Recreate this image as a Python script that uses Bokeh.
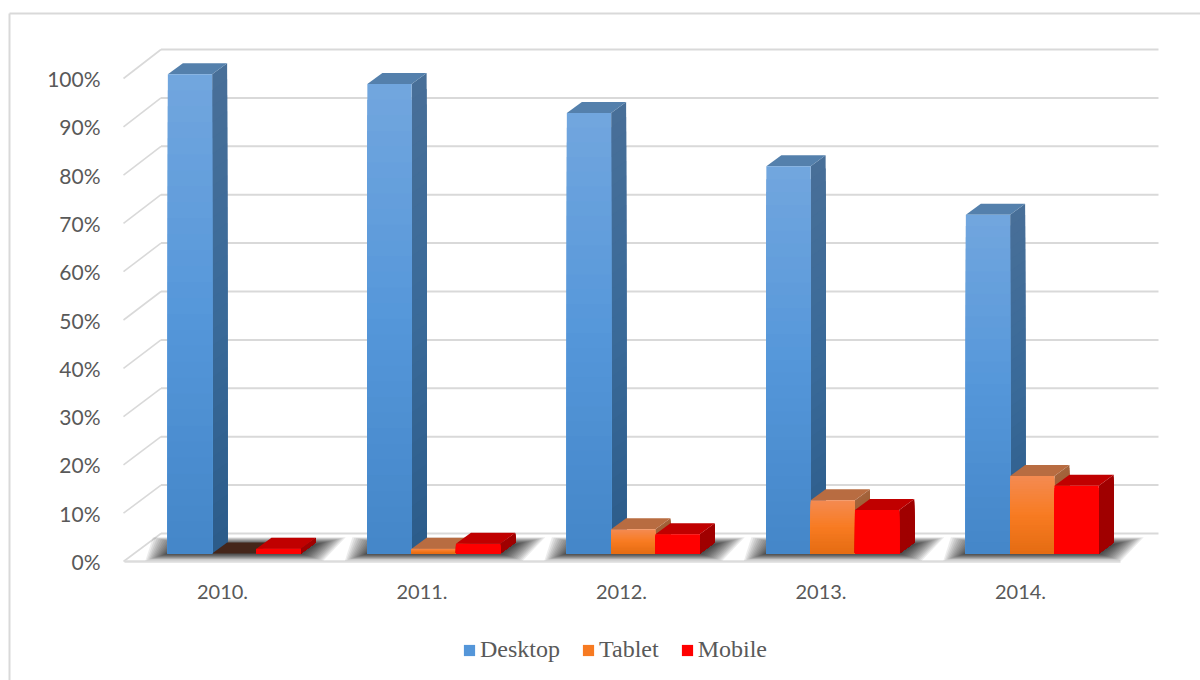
from bokeh.plotting import figure
from bokeh.models import (Range1d, LinearAxis, FixedTicker, Legend, LegendItem, ColumnDataSource)
from bokeh.embed import file_html
from bokeh.resources import INLINE

years = ["2010.", "2011.", "2012.", "2013.", "2014."]
desktop = [99, 97, 91, 80, 70]
tablet = [0, 1, 5, 11, 16]
mobile = [1, 2, 4, 9, 14]
y_ticks = [0, 10, 20, 30, 40, 50, 60, 70, 80, 90, 100]

W, H = 1200, 680
OX, OY = 0, 0                 # page offset of the figure
GROUP_PX, CENTER_PX = 199.5, 222.0
BAR_SHIFT_PX = 11.8           # clusters sit right of their labels, because of the depth
BAR_PX = 44.3
DX, DY = 15.0, 11.0           # oblique depth of bars
BASE_PX, UNIT_PX = 553.0, 4.84
STRIPS = 30
GRID = "#d9d9d9"
TEXT = "#595959"


def xd(px):
    return (px - CENTER_PX) / GROUP_PX


def yd(py):
    return (BASE_PX - py) / UNIT_PX


def hex2rgb(h):
    return tuple(int(h[i:i + 2], 16) for i in (1, 3, 5))


def ramp(stops, t):
    n = len(stops) - 1
    i = min(int(t * n), n - 1)
    f = t * n - i
    a, b = hex2rgb(stops[i]), hex2rgb(stops[i + 1])
    return "#%02x%02x%02x" % tuple(round(a[k] + (b[k] - a[k]) * f) for k in range(3))


p = figure(width=W, height=H, output_backend="svg", toolbar_location=None,
           x_range=Range1d(xd(OX), xd(OX + W)), y_range=Range1d(yd(OY + H), yd(OY)),
           x_axis_type=None, y_axis_type=None, min_border=0,
           outline_line_color=None, background_fill_color="white", border_fill_color="white")
p.grid.visible = False
p.extra_y_ranges = {"front": Range1d((561.0 - (OY + H)) / 4.83, (561.0 - OY) / 4.83)}

# chart border (left and top only)
p.segment(x0=[xd(9), xd(9)], y0=[yd(OY + H), yd(13)], x1=[xd(9), xd(OX + W)], y1=[yd(13), yd(13)],
          line_color=GRID, line_width=2)

# walls: side-wall diagonals and back-wall gridlines
wx0, wx1, wx2 = xd(123), xd(160.5), xd(1158)
back = 20 / UNIT_PX
for_side_y0 = [(BASE_PX - (561 - 4.83 * t)) / UNIT_PX for t in y_ticks]
p.segment(x0=[wx0] * 11, y0=for_side_y0, x1=[wx1] * 11, y1=[t + back for t in y_ticks],
          line_color=GRID, line_width=1.6)
p.segment(x0=[wx1] * 11, y0=[t + back for t in y_ticks], x1=[wx2] * 11, y1=[t + back for t in y_ticks],
          line_color=GRID, line_width=2)
# floor front edge
p.segment(x0=[xd(124)], y0=[yd(561)], x1=[xd(1120)], y1=[yd(561)], line_color="#dcdcdc", line_width=2.5)

shift = BAR_SHIFT_PX / GROUP_PX

# blurred floor shadows
sx, sy = [], []
layers = [30, 28, 26, 24, 22, 20, 18, 16, 14, 12, 10, 8, 6, 4, 2]
for i in range(len(years)):
    l = i + shift - 1.5 * BAR_PX / GROUP_PX
    r = i + shift + 1.5 * BAR_PX / GROUP_PX
    for e in layers:
        ee = e / GROUP_PX
        d = DX / GROUP_PX
        v = e * 0.24 / UNIT_PX
        sx.append([l - 0.75 * ee, r + 0.75 * ee, r + d + ee, l + d - ee])
        sy.append([yd(553) - v, yd(553) - v, yd(544) + v, yd(544) + v])
p.patches(sx, sy, fill_color="#000000", fill_alpha=0.075, line_color=None)

series = [
    ("Desktop", desktop, ["#4486c8", "#5597da", "#72a6de"], ["#2c5c8a", "#3a6a99", "#486f98"], "#5480ac"),
    ("Tablet", tablet, ["#e56c12", "#f87b22", "#f48b52"], ["#8a4d24", "#9b5a2e", "#a4643c"], "#b86c41"),
    ("Mobile", mobile, ["#ff0000", "#ff0000", "#ff0000"], ["#a00000", "#a00000", "#a00000"], "#c00000"),
]
dx_u, dy_u = DX / GROUP_PX, DY / UNIT_PX
bw = BAR_PX / GROUP_PX
items = []
for s, (name, vals, front_c, side_c, top_c) in enumerate(series):
    xs_side, ys_side, c_side = [], [], []
    xs_top, ys_top, c_top = [], [], []
    q = dict(left=[], right=[], top=[], bottom=[], color=[])
    for i, v in enumerate(vals):
        l = i + shift + (s - 1.5) * bw
        r = l + bw
        # top face
        xs_top.append([l, r, r + dx_u, l + dx_u])
        ys_top.append([v, v, v + dy_u, v + dy_u])
        c_top.append("#45261a" if v == 0 else top_c)
        for k in range(STRIPS, 0, -1):
            t = k / STRIPS
            tv = v * t
            xs_side.append([r, r + dx_u, r + dx_u, r])
            ys_side.append([0, dy_u, tv + dy_u, tv])
            c_side.append(ramp(side_c, (k - 0.5) / STRIPS))
            q["left"].append(l)
            q["right"].append(r)
            q["bottom"].append(0)
            q["top"].append(tv)
            q["color"].append(ramp(front_c, (k - 0.5) / STRIPS))
    p.patches(xs_side, ys_side, fill_color=c_side, line_color=None)
    p.patches(xs_top, ys_top, fill_color=c_top, line_color=None)
    rq = p.quad(left="left", right="right", top="top", bottom="bottom", fill_color="color",
                line_color=None, source=ColumnDataSource(q))
    items.append(LegendItem(label=name, renderers=[rq], index=STRIPS // 2))

# axes
left = LinearAxis(y_range_name="front", fixed_location=xd(109), ticker=FixedTicker(ticks=y_ticks),
                  major_label_overrides={t: f"{t}%" for t in y_ticks})
left.axis_line_color = None
left.major_tick_line_color = None
left.minor_tick_line_color = None
left.major_label_standoff = 3
left.major_label_text_font = "Lato"
left.major_label_text_font_size = "21px"
left.major_label_text_color = TEXT
p.add_layout(left, "left")

bottom = LinearAxis(fixed_location=yd(577), ticker=FixedTicker(ticks=list(range(len(years)))),
                    major_label_overrides={i: y for i, y in enumerate(years)})
bottom.axis_line_color = None
bottom.major_tick_line_color = None
bottom.minor_tick_line_color = None
bottom.major_label_standoff = 1
bottom.major_label_text_font = "Lato"
bottom.major_label_text_font_size = "20px"
bottom.major_label_text_color = TEXT
p.add_layout(bottom, "below")

legend = Legend(items=items, orientation="horizontal", location=(462, 17), margin=0, padding=0,
                spacing=21, glyph_width=14, glyph_height=14, label_standoff=4,
                label_text_font="Liberation Serif", label_text_font_size="24px", label_text_color=TEXT,
                background_fill_alpha=0, border_line_color=None)
p.add_layout(legend, "center")

open("out.html", "w").write(file_html(p, INLINE))
